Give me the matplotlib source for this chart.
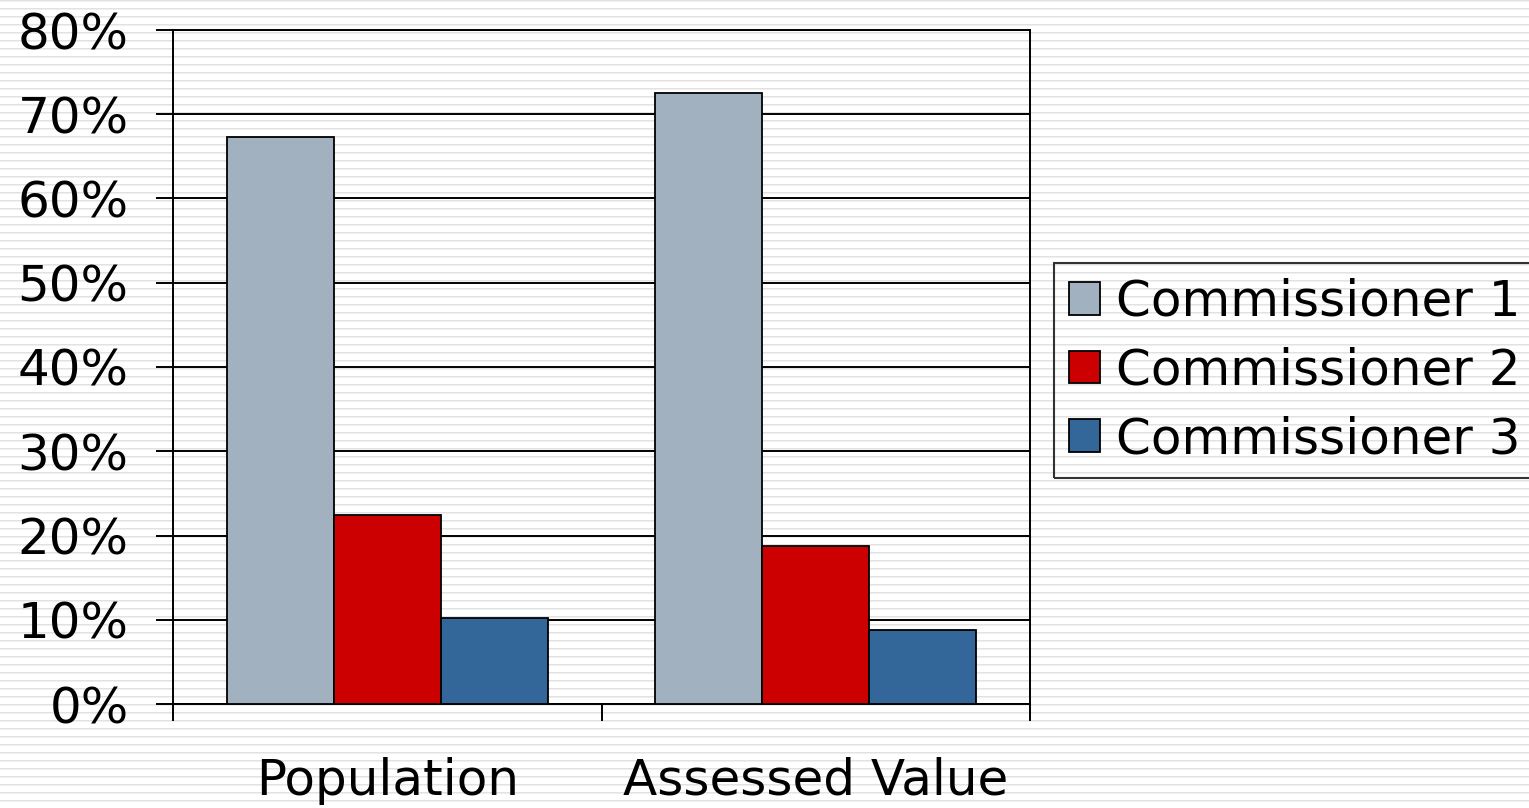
import numpy as np
import matplotlib
matplotlib.use("Agg")
import matplotlib.pyplot as plt
from matplotlib.ticker import FixedLocator, FuncFormatter

categories = ["Population", "Assessed Value"]
series_names = ["Commissioner 1", "Commissioner 2", "Commissioner 3"]
commissioner_1 = [67.3, 72.5]
commissioner_2 = [22.4, 18.75]
commissioner_3 = [10.2, 8.8]
y_ticks = [0, 10, 20, 30, 40, 50, 60, 70, 80]

colors = ["#A2B1C0", "#CC0000", "#336699"]

W, H = 1529, 808
fig = plt.figure(figsize=(W / 100, H / 100), dpi=100)
fig.patch.set_facecolor("white")

# striped backdrop
bg = fig.add_axes([0, 0, 1, 1], zorder=-10)
rows = np.ones(H)
for r in range(H):
    m = r % 8
    if m == 0:
        rows[r] = 0.89
    elif m == 1:
        rows[r] = 0.94
stripe = np.repeat(rows[:, None], 3, axis=1)[:, None, :].repeat(4, axis=1)
bg.imshow(stripe, aspect="auto", interpolation="nearest", extent=[0, 1, 0, 1])
bg.set_axis_off()

ax = fig.add_axes([173 / W, 104 / H, (1030 - 173) / W, (704 - 30) / H])
ax.patch.set_alpha(0)

x = np.arange(len(categories))
bw = 0.25
series = [commissioner_1, commissioner_2, commissioner_3]
for i, (vals, name, c) in enumerate(zip(series, series_names, colors)):
    ax.bar(x + (i - 1) * bw, vals, width=bw, color=c, edgecolor="black",
           linewidth=1.3, label=name, zorder=3)

ax.set_xlim(-0.5, len(categories) - 0.5)
ax.set_ylim(0, 80)
ax.yaxis.set_major_locator(FixedLocator(y_ticks))
ax.yaxis.set_major_formatter(FuncFormatter(lambda v, p: f"{v:.0f}%"))
ax.grid(axis="y", color="black", linewidth=1.4, zorder=1)
ax.set_axisbelow(True)

ax.xaxis.set_major_locator(FixedLocator([-0.5, 0.5, 1.5]))
ax.xaxis.set_major_formatter(FuncFormatter(lambda v, p: ""))
ax.xaxis.set_minor_locator(FixedLocator(list(x)))
ax.set_xticklabels(categories, minor=True)

ax.tick_params(axis="y", which="major", length=12, width=1.4, pad=20,
               labelsize=36, direction="out")
ax.tick_params(axis="x", which="major", length=12, width=1.4, direction="out")
ax.tick_params(axis="x", which="minor", length=0, pad=38, labelsize=36)

for s in ax.spines.values():
    s.set_linewidth(1.4)
    s.set_color("black")

leg = ax.legend(loc="upper left", bbox_to_anchor=(1054 / W, (H - 263) / H),
                bbox_transform=fig.transFigure, fontsize=36, frameon=True,
                fancybox=False, edgecolor="black",
                handlelength=0.62, handleheight=0.62, handletextpad=0.32,
                labelspacing=0.41, borderpad=0.3, borderaxespad=0)
frame = leg.get_frame()
frame.set_facecolor("none")
frame.set_linewidth(1.5)

fig.savefig("out.png", dpi=100)
